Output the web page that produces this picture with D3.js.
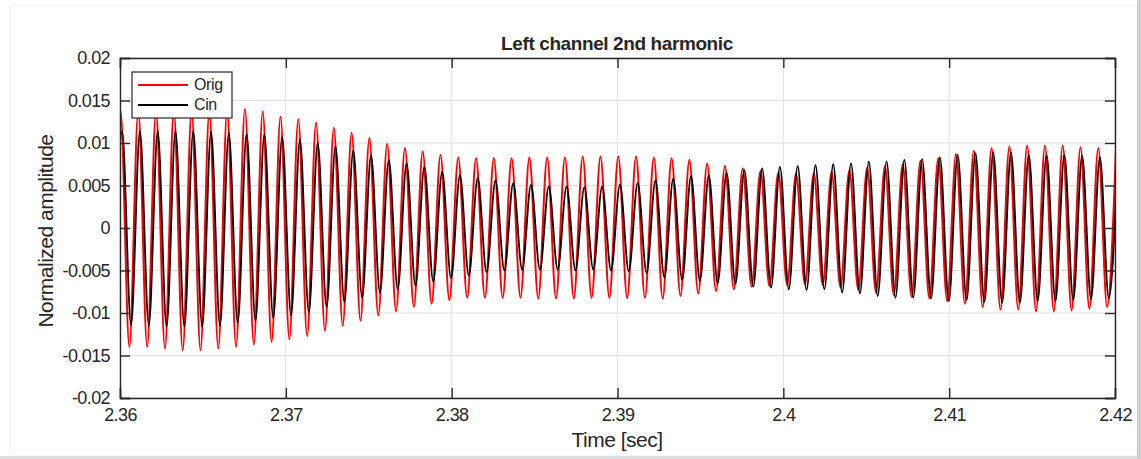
<!DOCTYPE html>
<html>
<head>
<meta charset="utf-8">
<script src="https://cdn.jsdelivr.net/npm/d3@7"></script>
<style>
	body { margin: 0; background: #fff; }
	text { font-family: "Liberation Sans", Arial, sans-serif; fill: #262626; }
</style>
</head>
<body>
<div id="container"></div>
<script>
//Axis ticks and labels
var xTicks = [2.36, 2.37, 2.38, 2.39, 2.40, 2.41, 2.42];
var xTickLabels = ["2.36", "2.37", "2.38", "2.39", "2.4", "2.41", "2.42"];
var yTicks = [-0.02, -0.015, -0.01, -0.005, 0, 0.005, 0.01, 0.015, 0.02];
var yTickLabels = ["-0.02", "-0.015", "-0.01", "-0.005", "0", "0.005", "0.01", "0.015", "0.02"];

//Time of the first Orig crest and the half period between crest and trough
var firstCrest = 2.36003;
var halfPeriod = 0.000536;
var cinLag = 0.0001;

//Crest and trough values read per cycle (trough[i] comes just before crest[i])
var origCrests = [0.0138, 0.0138, 0.0138, 0.0138, 0.0138, 0.0138, 0.0138, 0.0140, 0.0137, 0.0131,
	0.0128, 0.0124, 0.0118, 0.0112, 0.0106, 0.0099, 0.0094, 0.0090, 0.0086, 0.0083,
	0.0082, 0.0082, 0.0082, 0.0083, 0.0083, 0.0083, 0.0084, 0.0084, 0.0084, 0.0084,
	0.0083, 0.0082, 0.0080, 0.0076, 0.0073, 0.0070, 0.0067, 0.0065, 0.0064, 0.0064,
	0.0066, 0.0068, 0.0071, 0.0073, 0.0075, 0.0079, 0.0082, 0.0087, 0.0091, 0.0094,
	0.0096, 0.0097, 0.0097, 0.0097, 0.0095, 0.0094, 0.0095];
var origTroughs = [-0.0139, -0.0140, -0.0140, -0.0142, -0.0144, -0.0144, -0.0142, -0.0140, -0.0137, -0.0134,
	-0.0131, -0.0127, -0.0121, -0.0115, -0.0109, -0.0103, -0.0098, -0.0093, -0.0089, -0.0085,
	-0.0082, -0.0082, -0.0082, -0.0082, -0.0083, -0.0083, -0.0083, -0.0082, -0.0082, -0.0082,
	-0.0082, -0.0083, -0.0080, -0.0077, -0.0074, -0.0072, -0.0069, -0.0068, -0.0067, -0.0066,
	-0.0067, -0.0070, -0.0073, -0.0076, -0.0079, -0.0081, -0.0083, -0.0086, -0.0089, -0.0093,
	-0.0096, -0.0096, -0.0098, -0.0098, -0.0097, -0.0095, -0.0093];
var cinCrests = [0.0114, 0.0114, 0.0114, 0.0114, 0.0114, 0.0113, 0.0112, 0.0111, 0.0110, 0.0107,
	0.0104, 0.0100, 0.0096, 0.0091, 0.0085, 0.0080, 0.0076, 0.0072, 0.0066, 0.0062,
	0.0059, 0.0056, 0.0053, 0.0051, 0.0049, 0.0049, 0.0048, 0.0049, 0.0051, 0.0053,
	0.0056, 0.0058, 0.0061, 0.0062, 0.0065, 0.0068, 0.0070, 0.0072, 0.0073, 0.0074,
	0.0075, 0.0076, 0.0078, 0.0078, 0.0080, 0.0081, 0.0083, 0.0086, 0.0088, 0.0089,
	0.0089, 0.0086, 0.0086, 0.0086, 0.0085, 0.0083, 0.0083];
var cinTroughs = [-0.0113, -0.0114, -0.0115, -0.0116, -0.0116, -0.0116, -0.0115, -0.0112, -0.0109, -0.0106,
	-0.0103, -0.0099, -0.0093, -0.0087, -0.0082, -0.0076, -0.0072, -0.0068, -0.0063, -0.0059,
	-0.0056, -0.0052, -0.0050, -0.0049, -0.0049, -0.0049, -0.0050, -0.0049, -0.0050, -0.0051,
	-0.0053, -0.0058, -0.0061, -0.0062, -0.0065, -0.0066, -0.0069, -0.0070, -0.0072, -0.0073,
	-0.0072, -0.0076, -0.0077, -0.0080, -0.0082, -0.0082, -0.0083, -0.0086, -0.0085, -0.0087,
	-0.0088, -0.0088, -0.0086, -0.0086, -0.0085, -0.0084, -0.0083];

//Turn crests/troughs into a time series of extrema
function makeSeries(crests, troughs, lag){
	var pts = [];
	for (var i = 0; i < crests.length; i++) {
		pts.push({ t: firstCrest + lag + (2 * i - 1) * halfPeriod, v: troughs[i] });
		pts.push({ t: firstCrest + lag + 2 * i * halfPeriod, v: crests[i] });
	}
	return pts;
}

function makeD3Chart(){
	var w = 1141;
	var h = 459;
	var left = 120, top = 58, right = 1115, bottom = 398;

	var svg = d3.select('#container')
		.append("svg")
		.attr("width", w)
		.attr("height", h);

	//Figure frame
	svg.append("rect")
		.attr("x", 10).attr("y", 5)
		.attr("width", 1127).attr("height", 451)
		.attr("fill", "#fff")
		.attr("stroke", "#f0f0f0");
	svg.append("rect")
		.attr("x", 1137).attr("y", 0)
		.attr("width", 4).attr("height", h)
		.attr("fill", "#cfcfcf");
	svg.append("rect")
		.attr("x", 0).attr("y", 456)
		.attr("width", 1137).attr("height", 3)
		.attr("fill", "#dedede");

	var xScale = d3.scaleLinear()
		.domain([2.36, 2.42])
		.range([left, right]);
	var yScale = d3.scaleLinear()
		.domain([-0.02, 0.02])
		.range([bottom, top]);

	//Grid
	svg.append("g")
		.selectAll("line")
		.data(xTicks)
		.enter()
		.append("line")
		.attr("x1", function(d){ return xScale(d); })
		.attr("x2", function(d){ return xScale(d); })
		.attr("y1", top).attr("y2", bottom)
		.attr("stroke", "#e0e0e0");
	svg.append("g")
		.selectAll("line")
		.data(yTicks)
		.enter()
		.append("line")
		.attr("y1", function(d){ return yScale(d); })
		.attr("y2", function(d){ return yScale(d); })
		.attr("x1", left).attr("x2", right)
		.attr("stroke", "#e0e0e0");

	//Lines
	svg.append("clipPath").attr("id", "clip")
		.append("rect")
		.attr("x", left).attr("y", top)
		.attr("width", right - left).attr("height", bottom - top);

	var line = d3.line()
		.x(function(d){ return xScale(d.t); })
		.y(function(d){ return yScale(d.v); })
		.curve(d3.curveMonotoneX);

	var plot = svg.append("g").attr("clip-path", "url(#clip)");
	plot.append("path")
		.attr("d", line(makeSeries(origCrests, origTroughs, 0)))
		.attr("fill", "none")
		.attr("stroke", "#ff0000")
		.attr("stroke-width", 2);
	plot.append("path")
		.attr("d", line(makeSeries(cinCrests, cinTroughs, cinLag)))
		.attr("fill", "none")
		.attr("stroke", "#000")
		.attr("stroke-width", 1.8);

	//Axes with inward ticks
	var axisColor = "#262626";
	var xAxis = svg.append("g")
		.attr("transform", "translate(0," + bottom + ")")
		.call(d3.axisBottom(xScale).tickValues(xTicks).tickSize(-10).tickPadding(10)
			.tickFormat(function(d, i){ return xTickLabels[i]; }));
	var yAxis = svg.append("g")
		.attr("transform", "translate(" + left + ",0)")
		.call(d3.axisLeft(yScale).tickValues(yTicks).tickSize(-10).tickPadding(10)
			.tickFormat(function(d, i){ return yTickLabels[i]; }));
	var topAxis = svg.append("g")
		.attr("transform", "translate(0," + top + ")")
		.call(d3.axisTop(xScale).tickValues(xTicks).tickSize(-10).tickFormat(""));
	var rightAxis = svg.append("g")
		.attr("transform", "translate(" + right + ",0)")
		.call(d3.axisRight(yScale).tickValues(yTicks).tickSize(-10).tickFormat(""));

	[xAxis, yAxis, topAxis, rightAxis].forEach(function(a){
		a.select(".domain").attr("stroke", axisColor).attr("stroke-width", 1.4);
		a.selectAll(".tick line").attr("stroke", axisColor).attr("stroke-width", 1.4);
		a.selectAll(".tick text")
			.attr("font-family", "Liberation Sans, Arial, sans-serif")
			.attr("font-size", "18px")
			.attr("fill", axisColor)
			.attr("letter-spacing", "-0.6px");
	});

	//Title and axis labels
	svg.append("text")
		.attr("x", 617)
		.attr("y", 50)
		.attr("text-anchor", "middle")
		.attr("font-size", "19px")
		.attr("font-weight", "bold")
		.attr("letter-spacing", "-0.4px")
		.text("Left channel 2nd harmonic");
	svg.append("text")
		.attr("x", 617)
		.attr("y", 447)
		.attr("text-anchor", "middle")
		.attr("font-size", "21px")
		.attr("letter-spacing", "-0.5px")
		.text("Time [sec]");
	svg.append("text")
		.attr("transform", "translate(53," + ((top + bottom) / 2 + 3) + ") rotate(-90)")
		.attr("text-anchor", "middle")
		.attr("font-size", "21px")
		.attr("letter-spacing", "-0.5px")
		.text("Normalized amplitude");

	//Legend
	var legend = svg.append("g");
	legend.append("rect")
		.attr("x", 132).attr("y", 72)
		.attr("width", 100).attr("height", 46)
		.attr("fill", "#fff")
		.attr("stroke", axisColor)
		.attr("stroke-width", 1.2);
	var entries = [{ name: "Orig", color: "#ff0000" }, { name: "Cin", color: "#000" }];
	entries.forEach(function(e, i){
		var y = 85 + i * 20;
		legend.append("line")
			.attr("x1", 138).attr("x2", 188)
			.attr("y1", y).attr("y2", y)
			.attr("stroke", e.color)
			.attr("stroke-width", 2);
		legend.append("text")
			.attr("x", 194).attr("y", y + 5)
			.attr("font-size", "16px")
			.attr("letter-spacing", "-0.4px")
			.text(e.name);
	});
}

makeD3Chart();
</script>
</body>
</html>
